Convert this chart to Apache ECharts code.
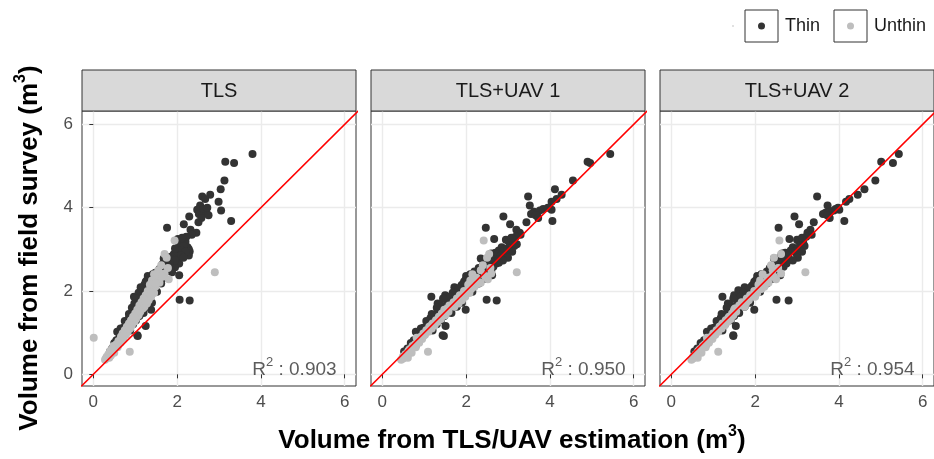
<!DOCTYPE html>
<html>
<head>
<meta charset="utf-8">
<script src="https://cdn.jsdelivr.net/npm/echarts@6/dist/echarts.min.js"></script>
<style>
  html, body { margin: 0; padding: 0; background: #fff; }
  #chart { width: 934px; height: 459px; }
</style>
</head>
<body>
<div id="chart"></div>
<script>
// facet labels and R^2 values
const panels = ['TLS', 'TLS+UAV 1', 'TLS+UAV 2'];
const r2Values = ['0.903', '0.950', '0.954'];
const tickValues = [0, 2, 4, 6];

// Thin trees: field volume and the three estimates (TLS, TLS+UAV 1, TLS+UAV 2)
const thinField = [5.29,5.10,5.07,4.65,4.44,4.31,4.27,4.21,4.14,4.05,3.95,3.93,3.90,3.88,3.85,3.82,3.79,3.68,3.65,3.60,3.52,3.47,3.40,3.25,3.23,3.18,3.12,3.05,3.00,2.97,2.95,2.92,2.90,2.88,2.85,2.82,2.78,2.75,2.72,2.70,2.66,2.62,2.60,2.57,2.55,2.52,2.50,2.47,2.45,2.42,2.40,2.38,2.36,2.33,2.30,2.27,2.24,2.22,2.20,2.18,2.12,2.09,2.05,2.02,1.98,1.95,1.90,1.86,1.84,1.80,1.79,1.77,1.75,1.72,1.68,1.65,1.62,1.58,1.55,1.50,1.47,1.43,1.40,1.35,1.30,1.25,1.20,1.16,1.12,1.05,1.02,0.98,0.94,0.92,0.88,0.82,0.75,0.70,0.62,0.55,
  3.15,3.08,3.02,2.98,2.94,2.86,2.80,2.76,2.73,2.68,2.64,2.58,2.53,2.48,2.44,2.39,2.34,2.29,2.26,2.19,2.15,2.10,2.06,2.00,1.96,1.92,1.87,1.82,1.78,1.70,1.66,1.60,1.52,1.45,1.38,1.28,1.22,1.10,3.35,3.30,3.28,3.75,3.97,4.00];
const thinTls = [3.80,3.15,3.36,3.13,3.04,2.79,2.60,2.67,2.99,2.55,2.48,3.05,2.62,2.70,2.52,2.75,2.29,3.29,2.51,2.16,1.76,2.32,2.46,2.02,2.18,2.20,2.05,2.25,2.28,2.24,2.30,1.98,2.05,1.92,2.28,1.85,1.68,2.00,1.90,1.78,2.05,1.80,1.72,1.95,1.62,1.85,1.70,1.55,1.88,1.60,1.42,2.05,1.30,1.50,1.65,1.38,1.55,1.25,1.45,1.62,1.35,1.13,1.40,1.28,1.52,1.20,1.35,0.97,1.30,1.18,2.06,2.30,1.10,1.40,1.22,1.05,1.32,1.15,1.38,1.00,1.20,0.92,1.10,0.85,1.02,0.80,0.95,1.25,0.72,0.88,0.57,0.68,1.05,1.06,0.62,0.55,0.50,0.58,0.45,0.40,
  2.10,2.15,1.95,2.12,2.20,2.10,2.15,1.88,1.95,1.82,1.65,1.78,1.58,1.75,1.48,1.68,1.35,1.58,1.28,1.50,1.22,1.45,1.15,1.32,1.08,1.25,1.12,1.02,1.25,0.98,1.15,0.92,1.08,0.85,0.98,0.75,0.90,0.65,2.35,2.22,2.12,2.58,2.63,2.72];
const thinUav1 = [5.44,4.90,4.96,4.55,4.12,4.28,3.48,4.16,4.04,3.52,4.04,3.76,3.62,3.70,3.55,3.66,2.89,4.06,3.44,3.05,2.47,3.20,3.28,2.67,2.95,3.02,3.21,2.85,2.92,2.78,2.88,2.70,2.60,2.75,2.82,2.55,2.35,2.68,2.50,2.62,2.72,2.40,2.55,2.45,2.30,2.58,2.38,2.20,2.50,2.32,2.10,2.62,2.00,2.25,2.40,2.05,2.18,1.95,2.12,2.30,1.88,1.72,2.02,1.80,2.15,1.70,1.50,1.17,1.85,1.62,2.49,2.73,1.55,1.90,1.68,1.40,1.78,1.60,1.99,1.35,1.65,1.25,1.48,1.15,1.40,1.10,1.30,1.51,0.98,1.20,0.80,0.92,1.44,1.47,0.85,0.75,0.68,0.80,0.60,0.52,
  3.12,3.15,2.98,3.05,3.10,2.95,3.00,2.78,2.88,2.78,2.48,2.65,2.45,2.60,2.28,2.52,2.12,2.42,1.98,2.25,1.90,2.15,1.82,2.00,1.68,1.85,1.62,1.45,1.78,1.32,1.65,1.30,1.52,1.18,1.38,1.05,1.22,0.92,3.30,3.18,3.08,3.72,3.84,3.95];
const thinUav2 = [5.43,5.01,5.29,4.87,4.61,4.45,3.48,4.25,4.17,3.73,4.01,3.88,3.80,3.68,3.62,3.72,2.94,4.13,3.40,3.05,2.56,3.32,3.25,2.82,3.00,3.05,3.10,2.90,2.98,2.85,2.95,2.72,2.65,2.80,2.78,2.60,2.45,2.70,2.55,2.62,2.75,2.48,2.58,2.50,2.35,2.55,2.42,2.28,2.52,2.38,2.15,2.60,2.05,2.22,2.35,2.08,2.15,1.98,2.10,2.28,1.92,1.75,2.00,1.60,2.12,1.72,1.50,1.22,1.80,1.65,2.51,2.80,1.58,1.88,1.70,1.42,1.75,1.58,1.98,1.38,1.62,1.28,1.50,1.18,1.42,1.12,1.28,1.54,1.02,1.22,0.85,0.95,1.48,1.48,0.88,0.78,0.70,0.82,0.62,0.55,
  3.15,3.18,3.02,3.08,3.12,3.00,3.02,2.82,2.90,2.74,2.52,2.68,2.46,2.58,2.30,2.50,2.15,2.40,2.02,2.22,1.95,2.18,1.85,2.02,1.72,1.88,1.65,1.48,1.82,1.35,1.68,1.32,1.55,1.20,1.40,1.08,1.25,0.95,3.35,3.22,3.12,3.78,3.92,3.98];

// Unthin trees
const unthinField = [3.21,2.89,2.80,2.62,2.55,2.50,2.45,2.42,2.40,2.36,2.32,2.28,2.25,2.20,2.15,2.10,2.05,2.00,1.95,1.90,1.86,1.82,1.78,1.73,1.70,1.65,1.62,1.58,1.55,1.50,1.46,1.42,1.38,1.33,1.30,1.26,1.22,1.18,1.14,1.10,1.06,1.02,0.98,0.95,0.90,0.88,0.85,0.80,0.76,0.72,0.68,0.65,0.60,0.56,0.54,0.52,0.48,0.45,0.42,0.38,0.35,0.40,
  1.97,1.76,1.52,1.35,1.16,2.18,2.34,0.62,0.74,0.92];
const unthinTls = [1.94,1.70,1.75,1.62,1.78,1.55,2.90,1.70,1.45,1.60,1.52,1.80,1.40,1.58,1.35,1.48,1.42,1.30,1.45,1.25,1.38,1.20,1.32,1.15,1.28,1.10,1.22,1.18,1.05,1.12,1.00,1.08,0.95,1.02,0.90,0.98,0.85,0.92,0.80,0.88,0.75,0.82,0.70,0.78,0.66,0.01,0.72,0.60,0.65,0.55,0.48,0.58,0.45,0.40,0.87,0.50,0.36,0.42,0.32,0.30,0.28,0.38,
  1.38,1.25,1.08,0.98,0.85,1.50,1.65,0.50,0.60,0.72];
const unthinUav1 = [2.42,2.55,2.50,2.40,2.58,2.35,3.21,2.60,2.15,2.45,2.25,2.52,2.10,2.35,2.05,2.20,2.12,1.95,2.08,1.85,1.98,1.78,1.90,1.70,1.82,1.60,1.72,1.55,1.48,1.58,1.42,1.50,1.35,1.40,1.28,1.32,1.20,1.25,1.12,1.18,1.05,1.10,0.98,1.02,0.92,0.82,0.95,0.85,0.88,0.78,0.72,0.80,0.65,0.62,1.09,0.70,0.55,0.60,0.49,0.50,0.45,0.61,
  2.02,1.80,1.52,1.38,1.15,2.28,2.48,0.70,0.82,0.98];
const unthinUav2 = [2.58,2.62,2.45,2.38,2.55,2.42,3.20,2.62,2.18,2.40,2.30,2.50,2.12,2.32,2.08,2.22,2.15,1.98,2.05,1.88,2.00,1.80,1.85,1.68,1.78,1.62,1.75,1.52,1.50,1.55,1.45,1.48,1.38,1.42,1.30,1.35,1.22,1.28,1.15,1.20,1.08,1.12,1.00,1.05,0.95,0.85,0.98,0.88,0.90,0.80,0.75,0.82,0.68,0.64,1.12,0.72,0.58,0.62,0.52,0.52,0.48,0.63,
  2.00,1.82,1.50,1.36,1.18,2.25,2.45,0.72,0.84,1.00];

const thinX = [thinTls, thinUav1, thinUav2];
const unthinX = [unthinTls, unthinUav1, unthinUav2];

const FONT = 'Liberation Sans';
const panelLeft = [82, 371, 660];
const panelW = 274, panelTop = 111, panelH = 275;

function zip(xs, ys) {
  const out = [];
  for (let i = 0; i < Math.min(xs.length, ys.length); i++) out.push([xs[i], ys[i]]);
  return out;
}

const grids = [], xAxes = [], yAxes = [], series = [], graphics = [];

panels.forEach((name, i) => {
  grids.push({
    left: panelLeft[i], top: panelTop, width: panelW, height: panelH,
    show: true, borderColor: '#333333', borderWidth: 1, backgroundColor: '#fff'
  });
  xAxes.push({
    gridIndex: i, type: 'value', min: -0.27, max: 6.27,
    axisLine: { show: false },
    axisTick: { show: true, length: 4, customValues: tickValues, lineStyle: { color: '#333333' } },
    axisLabel: { customValues: tickValues, color: '#4D4D4D', fontSize: 17, fontFamily: FONT, margin: 8 },
    splitLine: { show: true, lineStyle: { color: '#EBEBEB', width: 1.4 } }
  });
  yAxes.push({
    gridIndex: i, type: 'value', min: -0.28, max: 6.32,
    axisLine: { show: false },
    axisTick: { show: i === 0, length: 4, customValues: tickValues, lineStyle: { color: '#333333' } },
    axisLabel: { show: i === 0, customValues: tickValues, color: '#4D4D4D', fontSize: 17, fontFamily: FONT, margin: 9 },
    splitLine: { show: true, lineStyle: { color: '#EBEBEB', width: 1.4 } }
  });
  series.push({
    name: 'Thin', type: 'scatter', xAxisIndex: i, yAxisIndex: i,
    symbolSize: 8, itemStyle: { color: '#333333', opacity: 1 },
    data: zip(thinX[i], thinField), z: 2
  });
  series.push({
    name: 'Unthin', type: 'scatter', xAxisIndex: i, yAxisIndex: i,
    symbolSize: 8, itemStyle: { color: '#BEBEBE', opacity: 1 },
    data: zip(unthinX[i], unthinField), z: 3
  });
  // 1:1 line
  series.push({
    type: 'line', xAxisIndex: i, yAxisIndex: i, symbol: 'none', clip: true,
    lineStyle: { color: '#FF0000', width: 1.5 }, data: [[-1, -1], [7, 7]], z: 4, silent: true
  });
  // R^2 annotation
  series.push({
    type: 'scatter', xAxisIndex: i, yAxisIndex: i, symbolSize: 1, silent: true,
    itemStyle: { color: 'rgba(0,0,0,0)' }, z: 5,
    data: [[4.8, 0.12]],
    label: {
      show: true, position: 'inside',
      formatter: '{r|R}{s|2}{r| : ' + r2Values[i] + '}',
      rich: {
        r: { fontSize: 19, color: '#333333', fontFamily: FONT },
        s: { fontSize: 13, color: '#333333', fontFamily: FONT, padding: [0, 0, 14, 0] }
      }
    }
  });
  // facet strip
  graphics.push({
    type: 'rect', shape: { x: panelLeft[i], y: 70, width: panelW, height: panelTop - 70 },
    style: { fill: '#D9D9D9', stroke: '#333333', lineWidth: 1 }, z: 10
  });
  graphics.push({
    type: 'text', x: panelLeft[i] + panelW / 2, y: 91, z: 11,
    style: { text: name, fontSize: 20, fontFamily: FONT, fill: '#1A1A1A',
             align: 'center', verticalAlign: 'middle', textAlign: 'center', textVerticalAlign: 'middle' }
  });
});

// axis titles
const titleRich = {
  a: { fontSize: 26, fontWeight: 'bold', fontFamily: FONT, color: '#222222' },
  s: { fontSize: 16, fontWeight: 'bold', fontFamily: FONT, color: '#222222', padding: [0, 0, 18, 0] }
};
graphics.push({
  type: 'text', x: 512, y: 441, z: 11,
  style: { text: '{a|Volume from TLS/UAV estimation (m}{s|3}{a|)}', rich: titleRich,
           align: 'center', verticalAlign: 'middle', textAlign: 'center', textVerticalAlign: 'middle' }
});
graphics.push({
  type: 'text', x: 30, y: 248, rotation: Math.PI / 2, z: 11,
  style: { text: '{a|Volume from field survey (m}{s|3}{a|)}', rich: titleRich,
           align: 'center', verticalAlign: 'middle', textAlign: 'center', textVerticalAlign: 'middle' }
});

// legend (boxed keys like ggplot)
const legendItems = [
  { label: 'Thin', color: '#333333', x: 745 },
  { label: 'Unthin', color: '#BEBEBE', x: 834 }
];
graphics.push({ type: 'circle', shape: { cx: 733, cy: 26, r: 0.8 }, style: { fill: '#BBBBBB' } });
legendItems.forEach(it => {
  graphics.push({ type: 'rect', shape: { x: it.x, y: 10, width: 33, height: 32 },
                  style: { fill: '#fff', stroke: '#333333', lineWidth: 1 } });
  graphics.push({ type: 'circle', shape: { cx: it.x + 16.5, cy: 26, r: 3.5 }, style: { fill: it.color } });
  graphics.push({ type: 'text', x: it.x + 40, y: 26,
                  style: { text: it.label, fontSize: 18, fontFamily: FONT, fill: '#1A1A1A',
                           align: 'left', verticalAlign: 'middle', textAlign: 'left', textVerticalAlign: 'middle' } });
});

const chart = echarts.init(document.getElementById('chart'), null, { renderer: 'canvas' });
chart.setOption({
  animation: false,
  backgroundColor: '#fff',
  grid: grids,
  xAxis: xAxes,
  yAxis: yAxes,
  series: series,
  graphic: graphics
});
</script>
</body>
</html>
